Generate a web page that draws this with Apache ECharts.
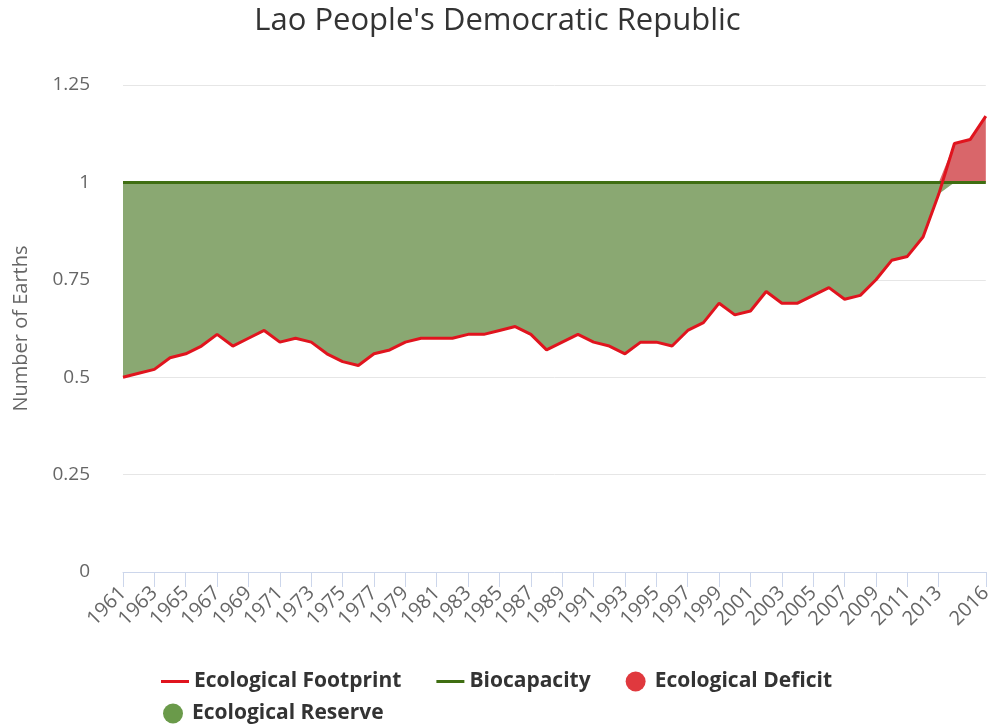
<!DOCTYPE html>
<html>
<head>
<meta charset="utf-8">
<script src="https://cdn.jsdelivr.net/npm/echarts@6/dist/echarts.min.js"></script>
<style>
  html, body { margin: 0; padding: 0; background: #fff; }
  #chart { width: 995px; height: 727px; }
</style>
</head>
<body>
<div id="chart"></div>
<script>
// years 1961..2016
var years = [];
for (var y = 1961; y <= 2016; y++) years.push(String(y));

var footprint = [
  0.50, 0.51, 0.52, 0.55, 0.56, 0.58, 0.61, 0.58, 0.60, 0.62,
  0.59, 0.60, 0.59, 0.56, 0.54, 0.53, 0.56, 0.57, 0.59, 0.60,
  0.60, 0.60, 0.61, 0.61, 0.62, 0.63, 0.61, 0.57, 0.59, 0.61,
  0.59, 0.58, 0.56, 0.59, 0.59, 0.58, 0.62, 0.64, 0.69, 0.66,
  0.67, 0.72, 0.69, 0.69, 0.71, 0.73, 0.70, 0.71, 0.75, 0.80,
  0.81, 0.86, 0.97, 1.10, 1.11, 1.17
];

var biocapacity = [
  1, 1, 1, 1, 1, 1, 1, 1, 1, 1,
  1, 1, 1, 1, 1, 1, 1, 1, 1, 1,
  1, 1, 1, 1, 1, 1, 1, 1, 1, 1,
  1, 1, 1, 1, 1, 1, 1, 1, 1, 1,
  1, 1, 1, 1, 1, 1, 1, 1, 1, 1,
  1, 1, 1, 1, 1, 1
];

var yTicks = [0, 0.25, 0.5, 0.75, 1, 1.25];

// stacked bands for the filled areas
var base = footprint.map(function (v, i) { return Math.min(v, biocapacity[i]); });
var reserve = footprint.map(function (v, i) { return Math.max(biocapacity[i] - v, 0); });
var deficit = footprint.map(function (v, i) { return Math.max(v - biocapacity[i], 0); });

function showLabel(index) {
  return (index % 2 === 0 && index <= 52) || index === years.length - 1;
}

var font = 'Open Sans, sans-serif';
var lineIcon = 'path://M0,0L28,0L28,3L0,3Z';
var legendText = { fontFamily: font, fontSize: 21, fontWeight: 'bold', color: '#333' };
var chart = echarts.init(document.getElementById('chart'));

chart.setOption({
  animation: false,
  title: {
    text: "Lao People's Democratic Republic",
    left: 'center',
    top: 1,
    textStyle: { fontFamily: font, fontSize: 31, fontWeight: 'normal', color: '#333' }
  },
  legend: [
    {
      left: 156, top: 666, itemGap: 35, itemWidth: 28, itemHeight: 20,
      symbolKeepAspect: true,
      textStyle: legendText,
      data: [
        { name: 'Ecological Footprint', icon: lineIcon },
        { name: 'Biocapacity', icon: lineIcon },
        { name: 'Ecological Deficit', icon: 'circle' }
      ]
    },
    {
      left: 158, top: 698, itemWidth: 28, itemHeight: 20,
      textStyle: legendText,
      data: [{ name: 'Ecological Reserve', icon: 'circle' }]
    }
  ],
  grid: { left: 123, right: 3, top: 85, bottom: 155 },
  xAxis: {
    type: 'category',
    boundaryGap: false,
    data: years,
    axisLine: { lineStyle: { color: '#ccd6eb' } },
    axisTick: { show: true, length: 15, interval: showLabel, lineStyle: { color: '#ccd6eb' } },
    axisLabel: {
      interval: showLabel, rotate: 45, margin: 18,
      fontFamily: font, fontSize: 20, color: '#666'
    }
  },
  yAxis: {
    type: 'value',
    min: yTicks[0],
    max: yTicks[yTicks.length - 1],
    interval: 0.25,
    name: 'Number of Earths',
    nameLocation: 'middle',
    nameGap: 92,
    nameTextStyle: { fontFamily: font, fontSize: 20, color: '#666' },
    axisLine: { show: false },
    axisTick: { show: false },
    axisLabel: { margin: 33, fontFamily: font, fontSize: 19, color: '#666' },
    splitLine: { lineStyle: { color: '#e6e6e6' } }
  },
  series: [
    {
      name: 'base', type: 'line', stack: 'band', data: base,
      symbol: 'none', lineStyle: { width: 0, opacity: 0 }, silent: true, z: 1
    },
    {
      name: 'Ecological Reserve', type: 'line', stack: 'band', data: reserve,
      symbol: 'none', lineStyle: { width: 0, opacity: 0 },
      itemStyle: { color: '#6a9a4a' },
      areaStyle: { color: '#8aa872', opacity: 1 }, z: 1
    },
    {
      name: 'Ecological Deficit', type: 'line', stack: 'band', data: deficit,
      symbol: 'none', lineStyle: { width: 0, opacity: 0 },
      itemStyle: { color: '#e0393e' },
      areaStyle: { color: '#d9666a', opacity: 1 }, z: 1
    },
    {
      name: 'Biocapacity', type: 'line', data: biocapacity,
      symbol: 'none', itemStyle: { color: '#3f6e12' },
      lineStyle: { color: '#3f6e12', width: 3 }, z: 3
    },
    {
      name: 'Ecological Footprint', type: 'line', data: footprint,
      symbol: 'none', itemStyle: { color: '#e0141e' },
      lineStyle: { color: '#e0141e', width: 3 }, z: 4
    }
  ]
});
</script>
</body>
</html>
